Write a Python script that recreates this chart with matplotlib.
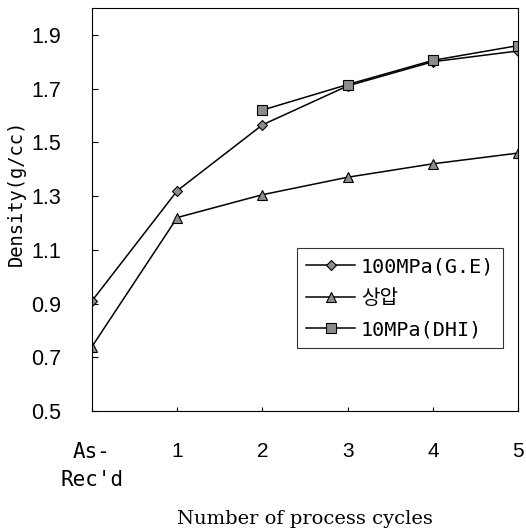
import matplotlib
matplotlib.use("Agg")
from matplotlib import pyplot as plt
import numpy as np

cycles = [0, 1, 2, 3, 4, 5]
tick_labels = ["As-\nRec'd", "1", "2", "3", "4", "5"]

ge_100mpa = [0.91, 1.32, 1.565, 1.71, 1.80, 1.84]
atmos = [0.74, 1.22, 1.305, 1.37, 1.42, 1.46]
dhi_10mpa = [np.nan, np.nan, 1.62, 1.715, 1.805, 1.86]

labels = ['100MPa(G.E)', '상압', '10MPa(DHI)']

fig = plt.figure(figsize=(5.26, 5.31), dpi=100)
ax = fig.add_axes([0.175, 0.226, 0.81, 0.759])

style = dict(color='black', lw=1.1, mfc='#8c8c8c', mec='black', mew=0.8)
ax.plot(cycles, ge_100mpa, marker='D', ms=5.5, label=labels[0], **style)
ax.plot(cycles, atmos, marker='^', ms=7, label=labels[1], **style)
ax.plot(cycles, dhi_10mpa, marker='s', ms=7, label=labels[2], **style)

ax.set_xlim(0, 5)
ax.set_ylim(0.5, 2.0)
ax.set_yticks([0.5, 0.7, 0.9, 1.1, 1.3, 1.5, 1.7, 1.9])
ax.set_xticks(cycles)
ax.set_xticklabels(tick_labels)
for t in ax.get_yticklabels():
    t.set_family('Liberation Sans')
    t.set_fontsize(15.5)
for i, t in enumerate(ax.get_xticklabels()):
    t.set_fontsize(15)
    t.set_family('DejaVu Sans Mono' if i == 0 else 'Liberation Sans')
    t.set_linespacing(1.5)
    t.set_multialignment('center')
ax.tick_params(axis='y', direction='in', length=4, pad=22)
ax.tick_params(axis='x', direction='in', length=3, pad=22)
ax.tick_params(top=False, right=False)

ax.set_ylabel('Density(g/cc)', family='DejaVu Sans Mono', fontsize=13.5)
ax.yaxis.set_label_coords(-0.155, 0.54)
ax.set_xlabel('Number of process cycles', family='DejaVu Serif', fontsize=14)
ax.xaxis.set_label_coords(0.5, -0.245)

leg = ax.legend(loc='lower right', bbox_to_anchor=(0.965, 0.156),
                prop={'family': ['DejaVu Sans Mono', 'Noto Sans CJK KR'], 'size': 14.5},
                frameon=True, fancybox=False, edgecolor='black',
                handlelength=2.4, handletextpad=0.3, borderpad=0.45, labelspacing=0.62,
                borderaxespad=0)
leg.get_frame().set_linewidth(0.8)

fig.savefig('out.png', dpi=100)
